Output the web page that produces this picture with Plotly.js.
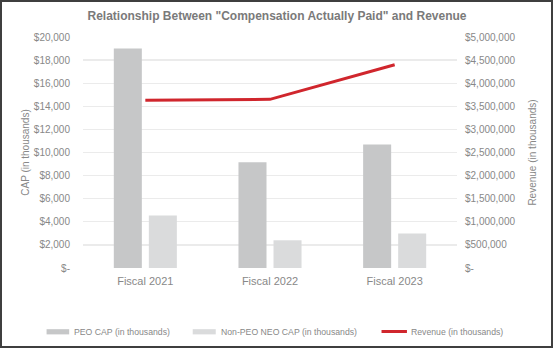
<!DOCTYPE html>
<html>
<head>
<meta charset="utf-8">
<script src="https://cdn.plot.ly/plotly-3.0.1.min.js"></script>
<style>
html,body{margin:0;padding:0;background:#fff;}
#wrap{position:absolute;left:0;top:0;width:553px;height:348px;box-sizing:border-box;border:2px solid #3f3f3f;overflow:hidden;}
#chart{position:absolute;left:-2px;top:-2px;width:554px;height:349px;}
</style>
</head>
<body>
<div id="wrap"><div id="chart"></div></div>
<script>
const categories = ["Fiscal 2021", "Fiscal 2022", "Fiscal 2023"];
const peoCap = [19000, 9150, 10700];
const nonPeoCap = [4550, 2400, 2980];
const revenue = [3630000, 3650000, 4400000];
const seriesNames = ["PEO CAP (in thousands)", "Non-PEO NEO CAP (in thousands)", "Revenue (in thousands)"];
const leftTickVals = [0, 2000, 4000, 6000, 8000, 10000, 12000, 14000, 16000, 18000, 20000];
const leftTickText = ["$-", "$2,000", "$4,000", "$6,000", "$8,000", "$10,000", "$12,000", "$14,000", "$16,000", "$18,000", "$20,000"];
const rightTickVals = [0, 500000, 1000000, 1500000, 2000000, 2500000, 3000000, 3500000, 4000000, 4500000, 5000000];
const rightTickText = ["$-", "$500,000", "$1,000,000", "$1,500,000", "$2,000,000", "$2,500,000", "$3,000,000", "$3,500,000", "$4,000,000", "$4,500,000", "$5,000,000"];

const colors = ["#c6c7c8", "#dadbdc", "#d0262d"];
const W = 554, H = 349;
const L = 83.4, R = 457, T = 37.3, B = 268;
const px = x => (x - L) / (R - L);
const py = y => (B - y) / (B - T);

const traces = [
  {type: "bar", x: categories, y: peoCap, name: seriesNames[0], marker: {color: colors[0]}, hoverinfo: "none"},
  {type: "bar", x: categories, y: nonPeoCap, name: seriesNames[1], marker: {color: colors[1]}, hoverinfo: "none"},
  {type: "scatter", mode: "lines", x: categories, y: revenue, yaxis: "y2", name: seriesNames[2], line: {color: colors[2], width: 3}, hoverinfo: "none"}
];

const FONT = "Liberation Sans, Arial, sans-serif";
const tickFont = {family: FONT, size: 10, color: "#888888"};
const legendY = 331.7;
const legendItems = [
  {x0: 47, x1: 69.6, tx: 72.4, kind: "bar"},
  {x0: 193, x1: 216, tx: 219, kind: "bar"},
  {x0: 381.6, x1: 407, tx: 409, kind: "line"}
];
const shapes = [];
const annotations = [];
legendItems.forEach((it, i) => {
  if (it.kind === "bar") {
    shapes.push({type: "rect", xref: "paper", yref: "paper", x0: px(it.x0), x1: px(it.x1), y0: py(legendY - 2.6), y1: py(legendY + 2.6), fillcolor: colors[i], line: {width: 0}});
  } else {
    shapes.push({type: "line", xref: "paper", yref: "paper", x0: px(it.x0), x1: px(it.x1), y0: py(legendY - 0.3), y1: py(legendY - 0.3), line: {color: colors[i], width: 3}});
  }
  annotations.push({xref: "paper", yref: "paper", x: px(it.tx), y: py(legendY), xanchor: "left", yanchor: "middle", text: seriesNames[i], showarrow: false, font: {family: FONT, size: 8.7, color: "#888888"}});
});

const layout = {
  width: W, height: H,
  margin: {l: L, r: W - R, t: T, b: H - B, pad: 0},
  paper_bgcolor: "rgba(0,0,0,0)", plot_bgcolor: "rgba(0,0,0,0)",
  showlegend: false,
  barmode: "group", bargap: 0.438, bargroupgap: 0.2,
  title: {text: "Relationship Between \"Compensation Actually Paid\" and Revenue", x: 0.5, xanchor: "center", y: 1 - 16 / H, yanchor: "middle", font: {family: FONT, size: 12, color: "#7a7a7a", weight: "bold"}},
  xaxis: {type: "category", showgrid: false, zeroline: false, showline: false, ticks: "", tickfont: {family: FONT, size: 11, color: "#888888"}, ticklabelstandoff: 5},
  yaxis: {range: [0, 20000], tickvals: leftTickVals, ticktext: leftTickText, showgrid: true, gridcolor: "#ebebeb", gridwidth: 1.3, zeroline: false, showline: false, ticks: "", tickfont: tickFont, ticklabelstandoff: 12,
    title: {text: "CAP (in thousands)", font: {family: FONT, size: 10, color: "#888888"}, standoff: 2}},
  yaxis2: {range: [0, 5000000], overlaying: "y", side: "right", tickvals: rightTickVals, ticktext: rightTickText, showgrid: false, zeroline: false, showline: false, ticks: "", tickfont: tickFont, ticklabelstandoff: 7,
    title: {text: "Revenue (in thousands)", font: {family: FONT, size: 10, color: "#888888"}, standoff: 14}},
  shapes: shapes,
  annotations: annotations
};

Plotly.newPlot("chart", traces, layout, {staticPlot: true, displayModeBar: false});
</script>
</body>
</html>
